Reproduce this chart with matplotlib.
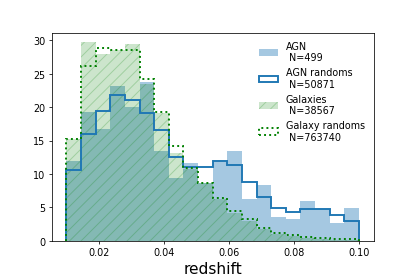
import matplotlib
matplotlib.use("Agg")
import matplotlib.pyplot as plt
import numpy as np

# Redshift bins (20 bins between 0.01 and 0.10)
bin_lo = 0.01
bin_hi = 0.10
n_bins = 20

# Normalised histogram heights
agn = [12.0, 19.3, 16.7, 23.2, 20.1, 23.8, 13.5, 9.4, 11.6, 8.6,
       11.8, 13.4, 6.3, 8.4, 3.5, 3.2, 5.9, 4.7, 2.6, 4.9]
agn_randoms = [10.6, 16.05, 19.5, 21.9, 21.1, 19.1, 16.6, 12.5, 11.1, 11.1,
               11.9, 11.4, 8.8, 6.5, 4.9, 4.3, 4.7, 4.7, 3.9, 2.95]
galaxies = [15.2, 29.7, 28.0, 28.6, 29.4, 23.5, 19.1, 13.1, 10.7, 8.6,
            6.2, 4.1, 3.0, 1.8, 1.1, 0.7, 0.5, 0.3, 0.2, 0.15]
galaxy_randoms = [15.3, 26.2, 28.8, 28.5, 28.5, 24.3, 19.3, 14.2, 10.9, 8.7,
                  6.4, 4.4, 3.2, 2.0, 1.2, 0.9, 0.55, 0.4, 0.3, 0.25]

labels = ["AGN\n N=499", "AGN randoms\n N=50871",
          "Galaxies\n N=38567", "Galaxy randoms\n N=763740"]

edges = np.linspace(bin_lo, bin_hi, n_bins + 1)
centers = 0.5 * (edges[:-1] + edges[1:])

# faint green hatching, like a hatch drawn at the patch alpha
plt.rcParams["hatch.color"] = (0.0, 0.5, 0.0, 0.22)
plt.rcParams["hatch.linewidth"] = 1.0

fig, ax = plt.subplots(figsize=(6, 4), dpi=415 / 6)
fig.subplots_adjust(left=0.125, right=0.9, top=0.88, bottom=0.127)

ax.hist(centers, bins=edges, weights=agn, histtype="stepfilled",
        color="C0", alpha=0.4, label=labels[0])
ax.hist(centers, bins=edges, weights=agn_randoms, histtype="step",
        color="C0", lw=2, label=labels[1])
ax.hist(centers, bins=edges, weights=galaxies, histtype="stepfilled",
        color="g", alpha=0.2, hatch="//", label=labels[2])
ax.hist(centers, bins=edges, weights=galaxy_randoms, histtype="step",
        color="g", ls=":", lw=2, label=labels[3])

ax.set_xlabel("redshift", fontsize=16)
ax.legend(frameon=False)

fig.savefig("out.png", dpi=415 / 6)
